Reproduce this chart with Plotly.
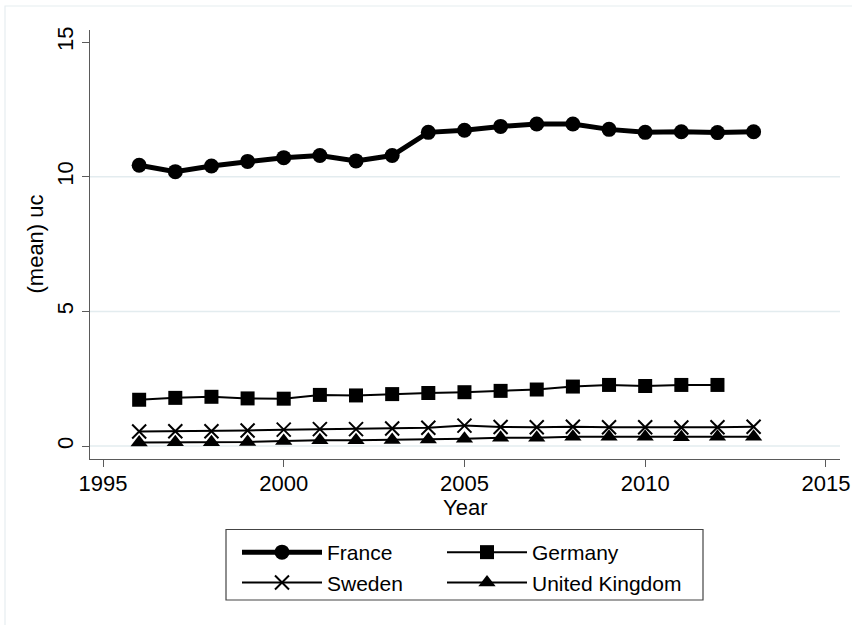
import plotly.graph_objects as go

# Mean uc by country and year
years = list(range(1996, 2014))
france = [10.43, 10.19, 10.40, 10.57, 10.71, 10.79, 10.59, 10.79, 11.65, 11.73,
          11.87, 11.96, 11.96, 11.76, 11.65, 11.67, 11.64, 11.67]
germany_years = list(range(1996, 2013))
germany = [1.72, 1.79, 1.83, 1.77, 1.76, 1.90, 1.88, 1.93, 1.97, 2.00,
           2.05, 2.10, 2.21, 2.27, 2.23, 2.27, 2.27]
sweden = [0.54, 0.55, 0.55, 0.58, 0.61, 0.63, 0.63, 0.65, 0.68, 0.76,
          0.71, 0.70, 0.72, 0.70, 0.70, 0.69, 0.70, 0.72]
uk = [0.13, 0.14, 0.14, 0.15, 0.19, 0.22, 0.22, 0.23, 0.24, 0.27,
      0.31, 0.31, 0.35, 0.35, 0.35, 0.33, 0.35, 0.35]

x_ticks = [1995, 2000, 2005, 2010, 2015]
y_ticks = [0, 5, 10, 15]
grid_values = [0, 5, 10]

W, H = 852, 625
L, R, T, B = 90, 12, 30, 166
PW, PH = W - L - R, H - T - B
FONT = "Liberation Sans, Arial, sans-serif"
AXIS = "#5a5a5a"
FS = 22


def px_x(p):
    return (p - L) / PW


def px_y(p):
    return (H - B - p) / PH


fig = go.Figure()
fig.add_trace(go.Scatter(
    x=years, y=france, name="France", mode="lines+markers",
    line=dict(color="black", width=5),
    marker=dict(symbol="circle", size=15, color="black"),
    legend="legend"))
fig.add_trace(go.Scatter(
    x=germany_years, y=germany, name="Germany", mode="lines+markers",
    line=dict(color="black", width=2),
    marker=dict(symbol="square", size=14, color="black"),
    legend="legend2"))
fig.add_trace(go.Scatter(
    x=years, y=sweden, name="Sweden", mode="lines+markers",
    line=dict(color="black", width=2),
    marker=dict(symbol="x-thin", size=14, color="black",
                line=dict(color="black", width=2)),
    legend="legend"))
fig.add_trace(go.Scatter(
    x=years, y=uk, name="United Kingdom", mode="lines+markers",
    line=dict(color="black", width=2),
    marker=dict(symbol="triangle-up", size=15, color="black"),
    legend="legend2"))

shapes = []
# light horizontal grid
for g in grid_values:
    shapes.append(dict(type="line", xref="paper", yref="y", x0=0, x1=1,
                       y0=g, y1=g, layer="below",
                       line=dict(color="#e3ecef", width=1.5)))
# outer graph-region frame
shapes.append(dict(type="rect", xref="paper", yref="paper",
                   x0=px_x(5), x1=px_x(870), y0=px_y(6), y1=px_y(660),
                   layer="below", line=dict(color="#e6edf0", width=1.2)))
# legend box
shapes.append(dict(type="rect", xref="paper", yref="paper",
                   x0=px_x(226), x1=px_x(703), y0=px_y(600), y1=px_y(529.5),
                   line=dict(color="#444444", width=1.2)))

legend_common = dict(
    xref="container", yref="container", xanchor="left", yanchor="top",
    orientation="v", itemwidth=80, bgcolor="rgba(0,0,0,0)", borderwidth=0,
    font=dict(family=FONT, size=21, color="black"), tracegroupgap=0,
)

title_font = dict(family=FONT, size=FS, color="black")

fig.update_layout(
    width=W, height=H,
    margin=dict(l=L, r=R, t=T, b=B, autoexpand=False),
    paper_bgcolor="white", plot_bgcolor="white",
    font=dict(family=FONT, size=FS, color="black"),
    showlegend=True,
    legend=dict(x=237 / W, y=1 - 532 / H, **legend_common),
    legend2=dict(x=442 / W, y=1 - 532 / H, **legend_common),
    shapes=shapes,
    annotations=[
        dict(text="(mean) uc", xref="paper", yref="paper",
             x=px_x(35), y=0.5, xanchor="center", yanchor="middle",
             textangle=-90, showarrow=False, font=title_font),
        dict(text="Year", xref="paper", yref="paper",
             x=0.5, y=px_y(507), xanchor="center", yanchor="middle",
             showarrow=False, font=title_font),
    ],
    xaxis=dict(
        range=[1994.64, 2015.39], tickvals=x_ticks,
        showgrid=False, zeroline=False,
        showline=True, linecolor=AXIS, linewidth=1.3,
        ticks="outside", ticklen=7, tickwidth=1.3, tickcolor=AXIS,
        ticklabelstandoff=-3,
        tickfont=dict(family=FONT, size=FS, color="black"),
    ),
    yaxis=dict(
        range=[-0.48, 15.45], tickvals=y_ticks,
        showgrid=False, zeroline=False,
        showline=True, linecolor=AXIS, linewidth=1.3,
        ticks="outside", ticklen=7, tickwidth=1.3, tickcolor=AXIS,
        tickangle=-90,
        tickfont=dict(family=FONT, size=FS, color="black"),
    ),
)

fig.write_html("out.html")
